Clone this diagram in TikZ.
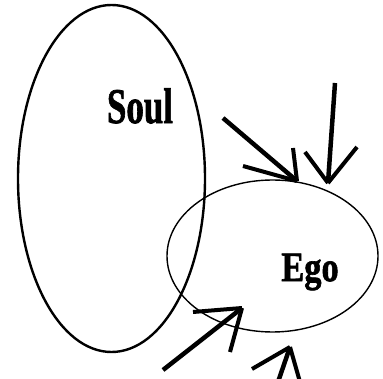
\documentclass[tikz,border=0pt]{standalone}
\usepackage{fontspec}
\setmainfont{Liberation Serif}
\newfontface\heavyfont{Liberation Serif Bold}[FakeBold=1.6]
\usetikzlibrary{shapes.geometric}
\begin{document}
\begin{tikzpicture}[x=1pt,y=-1pt,
  blob/.style={draw, ellipse, inner sep=0pt},
  lbl/.style={inner sep=0pt},
  shaft/.style={line width=4.5pt},
  barb/.style={line width=4pt}]
\useasboundingbox (0,0) rectangle (383,379);
\node[blob, line width=2.4pt, minimum width=187pt, minimum height=347pt] (soul) at (111.5,178.5) {};
\node[blob, line width=1.4pt, minimum width=211pt, minimum height=152pt] (ego) at (272.5,256) {};
\node[lbl, xscale=0.7, font=\heavyfont\fontsize{50}{50}\selectfont] (soultext) at (140,106) {Soul};
\node[lbl, xscale=0.82, font=\heavyfont\fontsize{42}{42}\selectfont] (egotext) at (310,272) {Ego};
% arrow 1
\coordinate (a1s) at (223,118);
\coordinate (a1t) at (297,181);
\coordinate (a1l) at (243,166);
\coordinate (a1u) at (293,148);
\draw[shaft] (a1s) -- (a1t);
\draw[barb] (a1l) -- (a1t);
\draw[barb] (a1u) -- (a1t);
% arrow 2
\coordinate (a2s) at (335,83);
\coordinate (a2t) at (328,183);
\coordinate (a2l) at (305,152);
\coordinate (a2r) at (357,147);
\draw[shaft] (a2s) -- (a2t);
\draw[barb] (a2l) -- (a2t);
\draw[barb] (a2r) -- (a2t);
% arrow 3
\coordinate (a3s) at (163,370);
\coordinate (a3t) at (242,308);
\coordinate (a3l) at (193,312);
\coordinate (a3r) at (230,352);
\draw[shaft] (a3s) -- (a3t);
\draw[barb] (a3l) -- (a3t);
\draw[barb] (a3r) -- (a3t);
% arrow 4
\coordinate (a4s) at (278,382);
\coordinate (a4t) at (290,347);
\coordinate (a4l) at (252,369);
\coordinate (a4r) at (300,382);
\draw[shaft] (a4s) -- (a4t);
\draw[barb] (a4l) -- (a4t);
\draw[barb] (a4r) -- (a4t);
\end{tikzpicture}
\end{document}
